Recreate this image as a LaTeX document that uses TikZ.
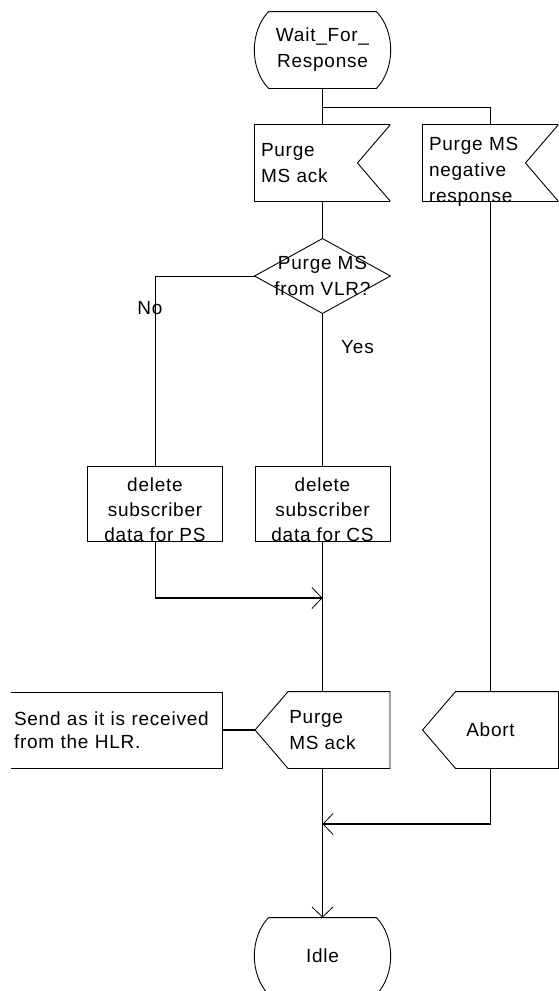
\documentclass[tikz,border=0pt]{standalone}
\usepackage{fontspec}
\setmainfont{Liberation Sans}[LetterSpace=4.0]
\usetikzlibrary{arrows.meta,calc,positioning}

\newcommand{\sdlfont}{\fontsize{19pt}{26pt}\selectfont}
\tikzset{
  sdl/.style={rectangle, minimum width=135pt, minimum height=76pt, inner sep=0pt, align=center},
  sdlstate/.style={sdl, append after command={\pgfextra{\let\sn\tikzlastnode
      \draw ($(\sn.north west)+(14pt,0)$) -- ($(\sn.north east)+(-14pt,0)$)
        .. controls +(19pt,-20pt) and +(19pt,20pt) .. ($(\sn.south east)+(-14pt,0)$)
        -- ($(\sn.south west)+(14pt,0)$)
        .. controls +(-19pt,20pt) and +(-19pt,-20pt) .. ($(\sn.north west)+(14pt,0)$);}}},
  sigin/.style={sdl, text width=123pt, inner xsep=6pt, align=left,
    append after command={\pgfextra{\let\sn\tikzlastnode
      \draw[line width=1.6pt] (\sn.south east) -- (\sn.south west) -- (\sn.north west) -- (\sn.north east);
      \draw (\sn.north east) -- ($(\sn.east)+(-33pt,0)$) -- (\sn.south east);}}},
  sigout/.style={sdl, minimum width=134pt, align=left,
    append after command={\pgfextra{\let\sn\tikzlastnode
      \draw ($(\sn.north west)+(33pt,0)$) -- (\sn.north east) -- (\sn.south east)
        -- ($(\sn.south west)+(33pt,0)$) -- (\sn.west) -- cycle;}}},
  task/.style={sdl, draw, minimum height=75pt, font={\fontsize{19pt}{25pt}\selectfont},
    text height=75pt, text depth=0pt},
  decision/.style={sdl, minimum height=74pt,
    append after command={\pgfextra{\let\sn\tikzlastnode
      \draw (\sn.north) -- (\sn.east) -- (\sn.south) -- (\sn.west) -- cycle;}}},
  textnote/.style={sdl, minimum width=211pt, minimum height=75pt, text width=205pt,
    inner xsep=3pt, align=left, font={\fontsize{19pt}{23pt}\selectfont},
    append after command={\pgfextra{\let\sn\tikzlastnode
      \draw (\sn.north west) -- (\sn.north east) -- (\sn.south east) -- (\sn.south west);}}},
  mergeline/.style={line width=1.8pt},
  >={Straight Barb[length=10pt,width=21pt,line width=0.8pt]}
}

\begin{document}
\begin{tikzpicture}[x=1pt, y=-1pt, line width=0.9pt, font=\sdlfont]
  \useasboundingbox (0,0) rectangle (558,991);
  % states
  \node[sdlstate] (wait) at (322.5,50) {Wait\_For\_\\Response};
  \node[sdlstate] (idle) at (322.5,956) {Idle};
  % input signals
  \node[sigin] (ack) at (322.5,163) {Purge\\MS ack};
  \node[sigin, text height=25pt, text depth=51pt] (neg) at (490.5,163) {Purge MS\\negative\\response};
  % decision and tasks
  \node[decision] (dec) at (322.5,276) {Purge MS\\from VLR?};
  \node (no) at (150,308) {No};
  \node (yes) at (357.5,347.5) {Yes};
  \node[task] (ps) at (155,503.5) {delete\\subscriber\\data for PS};
  \node[task] (cs) at (322.5,503.5) {delete\\subscriber\\data for CS};
  % outputs
  \node[sigout] (out) at (322.5,730) {Purge\\MS ack};
  \node[sigout, minimum width=135pt, align=center] (abort) at (490.5,730) {Abort};
  \node[textnote] (send) at (116.5,730) {Send as it is received\\from the HLR.};
  \coordinate (join1) at (322.5,598);
  \coordinate (join2) at (322.5,824);
  % flow lines
  \draw (wait) -- (ack);
  \draw (wait.south) ++(0,19) coordinate (split) -| (neg.north);
  \draw (ack) -- (dec);
  \draw (dec.west) -| (ps.north);
  \draw (dec) -- (cs);
  \draw (ps.south) -- (ps.south |- join1);
  \draw[mergeline,->] (ps.south |- join1) -- (join1);
  \draw (cs) -- (out);
  \draw[mergeline] (send.east) -- (out.west);
  \draw (neg) -- (abort);
  \draw (abort.south) -- (abort.south |- join2);
  \draw[mergeline,->] (abort.south |- join2) -- (join2);
  \draw[->] (out) -- (idle);
\end{tikzpicture}
\end{document}
